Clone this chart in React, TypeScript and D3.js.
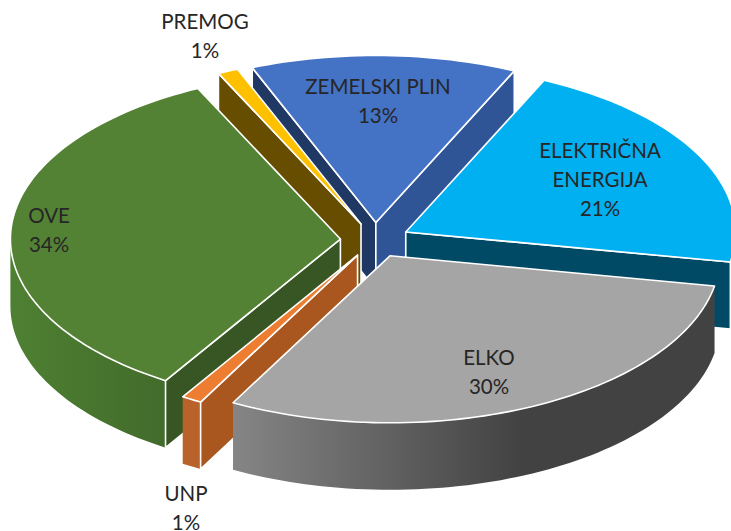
import React from "react";
import * as d3 from "d3";

// Energy mix shares in drawing order around the pie, clockwise.
const categories = ["ZEMELSKI PLIN", "ELEKTRIČNA ENERGIJA", "ELKO", "UNP", "OVE", "PREMOG"];
const shares = [13, 21, 30, 1, 34, 1];

const labelLines = [
  ["ZEMELSKI PLIN", "13%"],
  ["ELEKTRIČNA", "ENERGIJA", "21%"],
  ["ELKO", "30%"],
  ["UNP", "1%"],
  ["OVE", "34%"],
  ["PREMOG", "1%"],
];
const labelAnchors = [
  [378, 94],
  [600, 158],
  [489, 365],
  [186, 501],
  [49, 223],
  [205, 29],
];

const topColors = ["#4472C4", "#00B0F0", "#A5A5A5", "#ED7D31", "#548235", "#FFC000"];
const startWallColors = ["#1F3864", "#004A66", "#5A5A5A", "#A9561F", "#375623", "#664D00"];
const endWallColors = ["#2F5597", "#004A66", "#5A5A5A", "#A9561F", "#375623", "#664D00"];
const outerWallGradients = [
  ["#2F5597", "#2F5597", 1],
  ["#004A66", "#004A66", 1],
  ["#858585", "#424242", 0.6],
  ["#B9632A", "#B9632A", 1],
  ["#4E8032", "#3F6729", 1],
  ["#664D00", "#664D00", 1],
] as const;
// Back slices first, so nearer ones paint over them.
const paintOrder = [0, 5, 1, 4, 3, 2];

const WIDTH = 731;
const HEIGHT = 531;
const CX = 375;
const CY = 240;
const RX = 330;
const RY = 167;
const DEPTH = 67;
const EXPLODE = 0.105;
const LINE_HEIGHT = 29;

const rad = Math.PI / 180;
const pie = d3
  .pie<number>()
  .sort(null)
  .startAngle(-22 * rad)
  .endAngle(338 * rad)
  .value((d) => d);

const xScale = d3.scaleLinear().domain([-1, 1]).range([CX - RX, CX + RX]);
const yScale = d3.scaleLinear().domain([-1, 1]).range([CY - RY, CY + RY]);

type Pt = [number, number];
const closed = d3.line<Pt>().curve(d3.curveLinearClosed);

function slicePoints(start: number, end: number) {
  const mid = (start + end) / 2;
  const ox = Math.sin(mid) * EXPLODE;
  const oy = -Math.cos(mid) * EXPLODE;
  const project = (r: number, a: number): Pt => [
    xScale(ox + r * Math.sin(a)),
    yScale(oy - r * Math.cos(a)),
  ];
  const sample = (from: number, to: number) => {
    const steps = Math.max(2, Math.ceil((to - from) / (1.5 * rad)));
    return d3.range(steps + 1).map((i) => project(1, from + ((to - from) * i) / steps));
  };
  // Only the part of the rim on the near half of the pie can be seen.
  const lo = Math.max(start, 90 * rad);
  const hi = Math.min(end, 270 * rad);
  return {
    apex: project(0, 0),
    arc: sample(start, end),
    rim: hi > lo ? sample(lo, hi) : [],
  };
}

const drop = (p: Pt): Pt => [p[0], p[1] + DEPTH];
const extrude = (edge: Pt[]): Pt[] => [...edge, ...edge.slice().reverse().map(drop)];

export default function App() {
  const arcs = pie(shares);
  return (
    <svg
      width={WIDTH}
      height={HEIGHT}
      viewBox={`0 0 ${WIDTH} ${HEIGHT}`}
      style={{ position: "absolute", left: 0, top: 0, background: "#fff" }}
    >
      <defs>
        {outerWallGradients.map((g, i) => {
          const { arc } = slicePoints(arcs[i].startAngle, arcs[i].endAngle);
          const xs = d3.extent(arc, (p) => p[0]) as [number, number];
          return (
            <linearGradient
              key={i}
              id={`outer-${i}`}
              gradientUnits="userSpaceOnUse"
              x1={xs[0]}
              x2={xs[1]}
              y1={0}
              y2={0}
            >
              <stop offset="0" stopColor={g[0]} />
              <stop offset={g[2]} stopColor={g[1]} />
            </linearGradient>
          );
        })}
      </defs>
      {paintOrder.map((i) => {
        const { startAngle, endAngle } = arcs[i];
        const { apex, arc, rim } = slicePoints(startAngle, endAngle);
        const edge = { stroke: "#fff", strokeWidth: 1.6, strokeLinejoin: "round" as const };
        // A cut face shows only when it turns toward the viewer.
        const showStart = Math.sin(startAngle) < 0;
        const showEnd = Math.sin(endAngle) > 0;
        return (
          <g key={categories[i]}>
            {rim.length > 0 && <path d={closed(extrude(rim)) ?? ""} fill={`url(#outer-${i})`} />}
            {showStart && (
              <path d={closed(extrude([apex, arc[0]])) ?? ""} fill={startWallColors[i]} {...edge} />
            )}
            {showEnd && (
              <path
                d={closed(extrude([apex, arc[arc.length - 1]])) ?? ""}
                fill={endWallColors[i]}
                {...edge}
              />
            )}
            <path d={closed([apex, ...arc]) ?? ""} fill={topColors[i]} {...edge} />
          </g>
        );
      })}
      {labelLines.map((lines, i) => (
        <text
          key={i}
          textAnchor="middle"
          fontFamily="Lato, 'Open Sans', sans-serif"
          fontSize={20.5}
          fill="#262626"
        >
          {lines.map((line, j) => (
            <tspan key={j} x={labelAnchors[i][0]} y={labelAnchors[i][1] + j * LINE_HEIGHT}>
              {line}
            </tspan>
          ))}
        </text>
      ))}
    </svg>
  );
}
